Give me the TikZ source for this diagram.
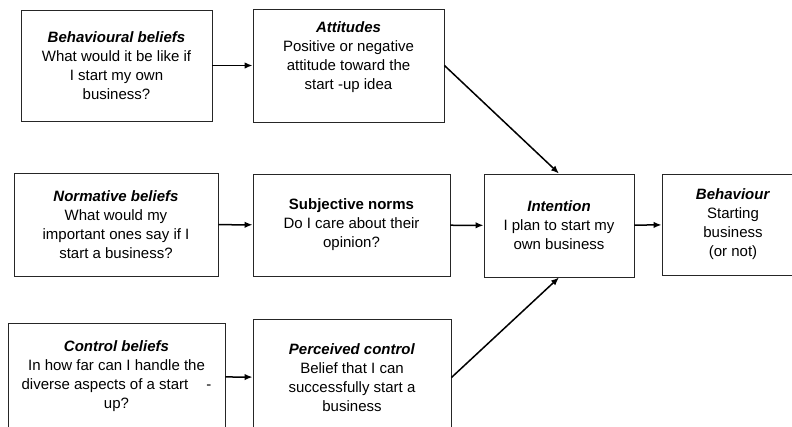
\documentclass[tikz,border=0pt]{standalone}
\usepackage{fontspec}
\setmainfont{Liberation Sans}
\usetikzlibrary{arrows.meta}
\begin{document}
\begin{tikzpicture}[x=1pt,y=-1pt,
    box/.style={draw=black!85, line width=0.9pt, align=center, inner sep=0pt,
      font=\fontsize{15}{19}\selectfont},
    arr/.style={-{Latex[length=8pt,width=6.5pt]}, line width=1.5pt},
    hd/.style={font=\bfseries\itshape}]
  \useasboundingbox (0,0) rectangle (792,426);
  \clip (0,0) rectangle (792,426);
  \node[box, minimum width=191pt, minimum height=111pt] (bbel) at (116.5,65.5)
    {\textbf{\textit{Behavioural beliefs}}\\What would it be like if\\I start my own\\business?};
  \node[box, minimum width=191pt, minimum height=113pt] (att) at (348.5,65.5)
    {\textbf{\textit{Attitudes}}\\Positive or negative\\attitude toward the\\start -up idea\\ \mbox{}};
  \node[box, minimum width=204pt, minimum height=103pt] (nbel) at (116,224.5)
    {\textbf{\textit{Normative beliefs}}\\What would my\\important ones say if I\\start a business?};
  \node[box, minimum width=197pt, minimum height=102pt] (subj) at (351.5,225)
    {\textbf{Subjective norms}\\Do I care about their\\opinion?};
  \node[box, minimum width=217pt, minimum height=107pt] (cbel) at (116.5,376.5)
    {\textbf{\textit{Control beliefs}}\\In how far can I handle the\\diverse aspects of a start\hspace{18pt}-\\up?};
  \node[box, minimum width=198pt, minimum height=117pt] (pctl) at (352,377.5)
    {\textbf{\textit{Perceived control}}\\Belief that I can\\successfully start a\\business};
  \node[box, minimum width=150pt, minimum height=103pt] (int) at (559,225.5)
    {\textbf{\textit{Intention}}\\I plan to start my\\own business};
  \node[box, minimum width=142pt, minimum height=101pt] (beh) at (733,224.5)
    {\textbf{\textit{Behaviour}}\\Starting\\business\\(or not)};
  \draw[arr] (bbel) -- (att);
  \draw[arr] (nbel) -- (subj);
  \draw[arr] (cbel) -- (pctl);
  \draw[arr] (att.east) -- (int.north);
  \draw[arr] (subj) -- (int);
  \draw[arr] (pctl.east) -- (int.south);
  \draw[arr] (int) -- (beh);
\end{tikzpicture}
\end{document}
